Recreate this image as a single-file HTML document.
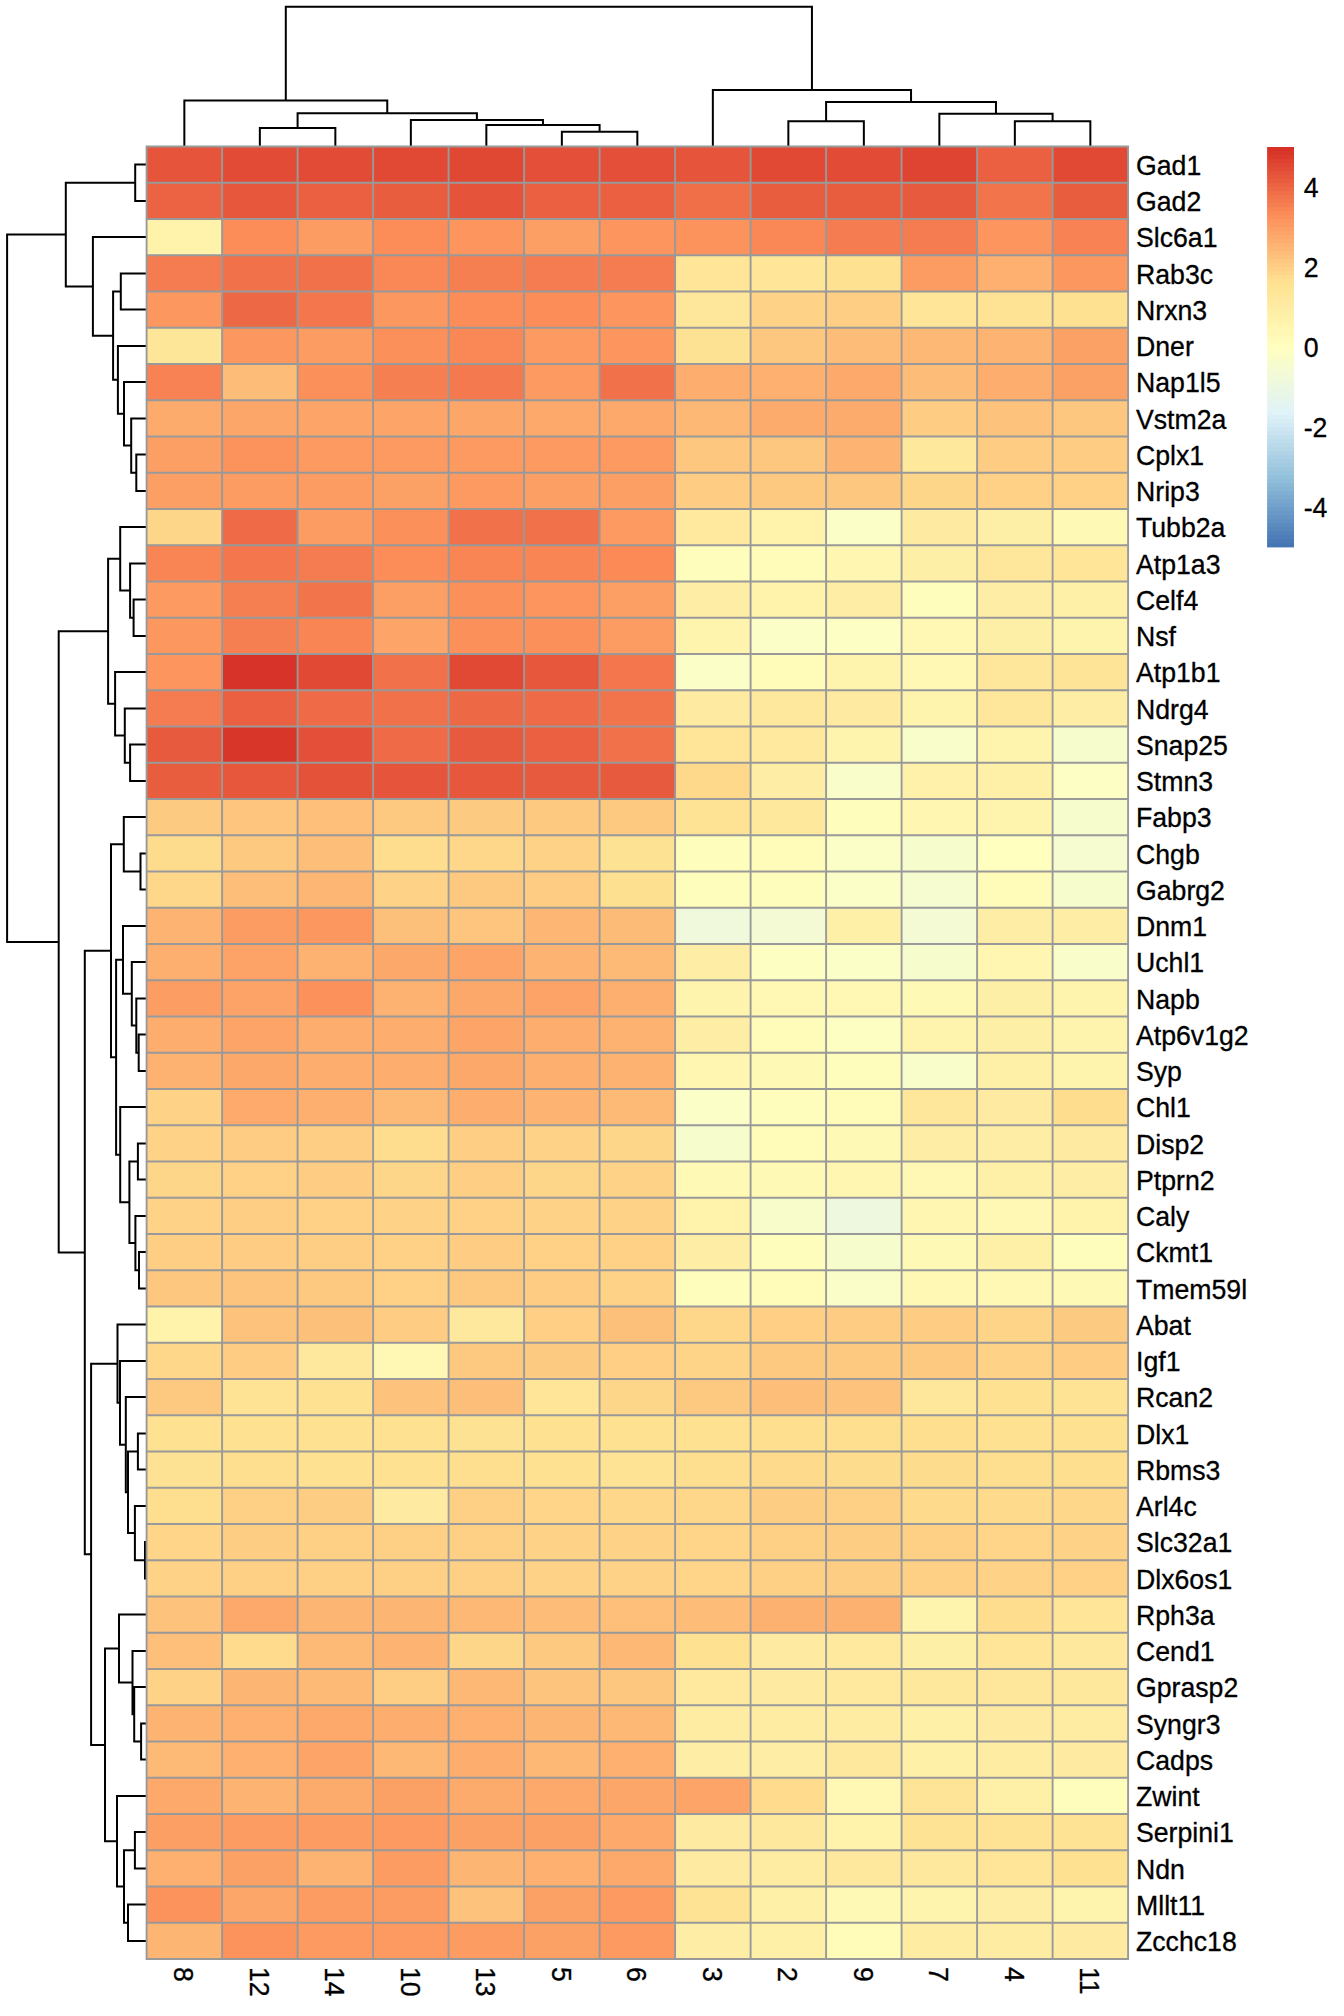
<!DOCTYPE html>
<html lang="en"><head><meta charset="utf-8"><title>Heatmap</title>
<style>html,body{margin:0;padding:0;background:#fff}svg{display:block}text{font-family:"Liberation Sans",Arial,Helvetica,sans-serif;font-size:26.67px;fill:#000;stroke:#000;stroke-width:0.3px;stroke-linejoin:round}</style></head><body>
<svg width="1344" height="2016" viewBox="0 0 1344 2016">
<rect width="1344" height="2016" fill="#fff"/>
<path d="M259.85 146.50V127.90H335.35V146.50M561.85 146.50V131.70H637.35V146.50M486.35 146.50V125.00H599.60V131.70M410.85 146.50V120.00H542.97V125.00M297.60 127.90V113.30H476.91V120.00M184.35 146.50V100.40H387.26V113.30M788.35 146.50V121.25H863.85V146.50M1014.85 146.50V121.25H1090.35V146.50M939.35 146.50V113.75H1052.60V121.25M826.10 121.25V102.00H995.97V113.75M712.85 146.50V90.00H911.04V102.00M285.80 100.40V6.70H811.94V90.00" stroke="#000" stroke-width="2" fill="none" stroke-linejoin="miter" stroke-linecap="butt"/>
<path d="M146.60 164.62H135.20V200.88H146.60M146.60 273.38H120.80V309.62H146.60M146.60 454.62H136.30V490.88H146.60M146.60 418.38H131.20V472.75H136.30M146.60 382.12H124.00V445.56H131.20M146.60 345.88H117.90V413.84H124.00M120.80 291.50H113.10V379.86H117.90M146.60 237.12H92.90V335.68H113.10M135.20 182.75H65.80V286.40H92.90M146.60 599.62H133.60V635.88H146.60M146.60 563.38H130.10V617.75H133.60M146.60 527.12H120.20V590.56H130.10M146.60 744.62H130.10V780.88H146.60M146.60 708.38H124.80V762.75H130.10M146.60 672.12H115.10V735.56H124.80M120.20 558.84H108.10V703.84H115.10M146.60 853.38H140.50V889.62H146.60M146.60 817.12H123.80V871.50H140.50M146.60 1034.62H138.70V1070.88H146.60M146.60 998.38H136.30V1052.75H138.70M146.60 962.12H131.80V1025.56H136.30M146.60 925.88H123.00V993.84H131.80M146.60 1143.38H137.90V1179.62H146.60M146.60 1252.12H139.00V1288.38H146.60M146.60 1215.88H135.40V1270.25H139.00M137.90 1161.50H129.40V1243.06H135.40M146.60 1107.12H120.20V1202.28H129.40M123.00 959.86H116.10V1154.70H120.20M123.80 844.31H111.00V1057.28H116.10M146.60 1433.38H137.90V1469.62H146.60M146.60 1542.12H145.00V1578.38H146.60M146.60 1505.88H134.90V1560.25H145.00M137.90 1451.50H128.00V1533.06H134.90M146.60 1397.12H125.80V1492.28H128.00M146.60 1360.88H120.00V1444.70H125.80M146.60 1324.62H117.50V1402.79H120.00M146.60 1723.38H141.10V1759.62H146.60M146.60 1687.12H134.20V1741.50H141.10M146.60 1650.88H132.50V1714.31H134.20M146.60 1614.62H119.00V1682.59H132.50M146.60 1832.12H134.90V1868.38H146.60M146.60 1904.62H128.00V1940.88H146.60M134.90 1850.25H124.00V1922.75H128.00M146.60 1795.88H117.00V1886.50H124.00M119.00 1648.61H105.00V1841.19H117.00M117.50 1363.71H91.10V1744.90H105.00M111.00 950.80H84.80V1554.30H91.10M108.10 631.34H58.70V1252.55H84.80M65.80 234.58H7.10V941.95H58.70" stroke="#000" stroke-width="2" fill="none" stroke-linejoin="miter" stroke-linecap="butt"/>
<g>
<rect x="146.60" y="146.50" width="75.80" height="36.55" fill="#E6553B"/><rect x="222.10" y="146.50" width="75.80" height="36.55" fill="#E24C36"/><rect x="297.60" y="146.50" width="75.80" height="36.55" fill="#E24C36"/><rect x="373.10" y="146.50" width="75.80" height="36.55" fill="#E14935"/><rect x="448.60" y="146.50" width="75.80" height="36.55" fill="#E14834"/><rect x="524.10" y="146.50" width="75.80" height="36.55" fill="#E34F38"/><rect x="599.60" y="146.50" width="75.80" height="36.55" fill="#E34F38"/><rect x="675.10" y="146.50" width="75.80" height="36.55" fill="#E6553B"/><rect x="750.60" y="146.50" width="75.80" height="36.55" fill="#E14935"/><rect x="826.10" y="146.50" width="75.80" height="36.55" fill="#E24C36"/><rect x="901.60" y="146.50" width="75.80" height="36.55" fill="#DF4432"/><rect x="977.10" y="146.50" width="75.80" height="36.55" fill="#EA6041"/><rect x="1052.60" y="146.50" width="75.80" height="36.55" fill="#E14935"/>
<rect x="146.60" y="182.75" width="75.80" height="36.55" fill="#EB6342"/><rect x="222.10" y="182.75" width="75.80" height="36.55" fill="#E7573C"/><rect x="297.60" y="182.75" width="75.80" height="36.55" fill="#EA6041"/><rect x="373.10" y="182.75" width="75.80" height="36.55" fill="#E95D3F"/><rect x="448.60" y="182.75" width="75.80" height="36.55" fill="#E5543A"/><rect x="524.10" y="182.75" width="75.80" height="36.55" fill="#EA6041"/><rect x="599.60" y="182.75" width="75.80" height="36.55" fill="#EA6041"/><rect x="675.10" y="182.75" width="75.80" height="36.55" fill="#F06E48"/><rect x="750.60" y="182.75" width="75.80" height="36.55" fill="#E95D3F"/><rect x="826.10" y="182.75" width="75.80" height="36.55" fill="#E95D3F"/><rect x="901.60" y="182.75" width="75.80" height="36.55" fill="#E85A3E"/><rect x="977.10" y="182.75" width="75.80" height="36.55" fill="#F2744B"/><rect x="1052.60" y="182.75" width="75.80" height="36.55" fill="#E95D3F"/>
<rect x="146.60" y="219.00" width="75.80" height="36.55" fill="#FFF3AC"/><rect x="222.10" y="219.00" width="75.80" height="36.55" fill="#FC8D59"/><rect x="297.60" y="219.00" width="75.80" height="36.55" fill="#FC9C63"/><rect x="373.10" y="219.00" width="75.80" height="36.55" fill="#FC8D59"/><rect x="448.60" y="219.00" width="75.80" height="36.55" fill="#FC955E"/><rect x="524.10" y="219.00" width="75.80" height="36.55" fill="#FC9F65"/><rect x="599.60" y="219.00" width="75.80" height="36.55" fill="#FC955E"/><rect x="675.10" y="219.00" width="75.80" height="36.55" fill="#FC925C"/><rect x="750.60" y="219.00" width="75.80" height="36.55" fill="#FA8756"/><rect x="826.10" y="219.00" width="75.80" height="36.55" fill="#F57C50"/><rect x="901.60" y="219.00" width="75.80" height="36.55" fill="#F57C50"/><rect x="977.10" y="219.00" width="75.80" height="36.55" fill="#FC955E"/><rect x="1052.60" y="219.00" width="75.80" height="36.55" fill="#F88253"/>
<rect x="146.60" y="255.25" width="75.80" height="36.55" fill="#F57C50"/><rect x="222.10" y="255.25" width="75.80" height="36.55" fill="#F1714A"/><rect x="297.60" y="255.25" width="75.80" height="36.55" fill="#F1714A"/><rect x="373.10" y="255.25" width="75.80" height="36.55" fill="#FA8756"/><rect x="448.60" y="255.25" width="75.80" height="36.55" fill="#F67F51"/><rect x="524.10" y="255.25" width="75.80" height="36.55" fill="#F57C50"/><rect x="599.60" y="255.25" width="75.80" height="36.55" fill="#F57C50"/><rect x="675.10" y="255.25" width="75.80" height="36.55" fill="#FEE597"/><rect x="750.60" y="255.25" width="75.80" height="36.55" fill="#FEE597"/><rect x="826.10" y="255.25" width="75.80" height="36.55" fill="#FEE191"/><rect x="901.60" y="255.25" width="75.80" height="36.55" fill="#FC9C63"/><rect x="977.10" y="255.25" width="75.80" height="36.55" fill="#FDB070"/><rect x="1052.60" y="255.25" width="75.80" height="36.55" fill="#FC9760"/>
<rect x="146.60" y="291.50" width="75.80" height="36.55" fill="#FC9760"/><rect x="222.10" y="291.50" width="75.80" height="36.55" fill="#ED6845"/><rect x="297.60" y="291.50" width="75.80" height="36.55" fill="#F3764D"/><rect x="373.10" y="291.50" width="75.80" height="36.55" fill="#FC9760"/><rect x="448.60" y="291.50" width="75.80" height="36.55" fill="#FC8D59"/><rect x="524.10" y="291.50" width="75.80" height="36.55" fill="#FC8D59"/><rect x="599.60" y="291.50" width="75.80" height="36.55" fill="#FC955E"/><rect x="675.10" y="291.50" width="75.80" height="36.55" fill="#FEE79A"/><rect x="750.60" y="291.50" width="75.80" height="36.55" fill="#FED388"/><rect x="826.10" y="291.50" width="75.80" height="36.55" fill="#FECE84"/><rect x="901.60" y="291.50" width="75.80" height="36.55" fill="#FEE597"/><rect x="977.10" y="291.50" width="75.80" height="36.55" fill="#FEE394"/><rect x="1052.60" y="291.50" width="75.80" height="36.55" fill="#FEE191"/>
<rect x="146.60" y="327.75" width="75.80" height="36.55" fill="#FEE699"/><rect x="222.10" y="327.75" width="75.80" height="36.55" fill="#FC9760"/><rect x="297.60" y="327.75" width="75.80" height="36.55" fill="#FC9C63"/><rect x="373.10" y="327.75" width="75.80" height="36.55" fill="#FC905B"/><rect x="448.60" y="327.75" width="75.80" height="36.55" fill="#FA8756"/><rect x="524.10" y="327.75" width="75.80" height="36.55" fill="#FC9A61"/><rect x="599.60" y="327.75" width="75.80" height="36.55" fill="#FC955E"/><rect x="675.10" y="327.75" width="75.80" height="36.55" fill="#FEE293"/><rect x="750.60" y="327.75" width="75.80" height="36.55" fill="#FDC77F"/><rect x="826.10" y="327.75" width="75.80" height="36.55" fill="#FDBD79"/><rect x="901.60" y="327.75" width="75.80" height="36.55" fill="#FDB875"/><rect x="977.10" y="327.75" width="75.80" height="36.55" fill="#FDB372"/><rect x="1052.60" y="327.75" width="75.80" height="36.55" fill="#FCA166"/>
<rect x="146.60" y="364.00" width="75.80" height="36.55" fill="#F88253"/><rect x="222.10" y="364.00" width="75.80" height="36.55" fill="#FDBD79"/><rect x="297.60" y="364.00" width="75.80" height="36.55" fill="#FC905B"/><rect x="373.10" y="364.00" width="75.80" height="36.55" fill="#F67F51"/><rect x="448.60" y="364.00" width="75.80" height="36.55" fill="#F4794E"/><rect x="524.10" y="364.00" width="75.80" height="36.55" fill="#FC9A61"/><rect x="599.60" y="364.00" width="75.80" height="36.55" fill="#F1714A"/><rect x="675.10" y="364.00" width="75.80" height="36.55" fill="#FDAE6F"/><rect x="750.60" y="364.00" width="75.80" height="36.55" fill="#FDB070"/><rect x="826.10" y="364.00" width="75.80" height="36.55" fill="#FDA96B"/><rect x="901.60" y="364.00" width="75.80" height="36.55" fill="#FDBD79"/><rect x="977.10" y="364.00" width="75.80" height="36.55" fill="#FDAE6F"/><rect x="1052.60" y="364.00" width="75.80" height="36.55" fill="#FCA166"/>
<rect x="146.60" y="400.25" width="75.80" height="36.55" fill="#FDAB6D"/><rect x="222.10" y="400.25" width="75.80" height="36.55" fill="#FDA66A"/><rect x="297.60" y="400.25" width="75.80" height="36.55" fill="#FDA468"/><rect x="373.10" y="400.25" width="75.80" height="36.55" fill="#FDA468"/><rect x="448.60" y="400.25" width="75.80" height="36.55" fill="#FDA66A"/><rect x="524.10" y="400.25" width="75.80" height="36.55" fill="#FDA96B"/><rect x="599.60" y="400.25" width="75.80" height="36.55" fill="#FDA96B"/><rect x="675.10" y="400.25" width="75.80" height="36.55" fill="#FDB875"/><rect x="750.60" y="400.25" width="75.80" height="36.55" fill="#FDAB6D"/><rect x="826.10" y="400.25" width="75.80" height="36.55" fill="#FDAB6D"/><rect x="901.60" y="400.25" width="75.80" height="36.55" fill="#FECC83"/><rect x="977.10" y="400.25" width="75.80" height="36.55" fill="#FDC27C"/><rect x="1052.60" y="400.25" width="75.80" height="36.55" fill="#FDC77F"/>
<rect x="146.60" y="436.50" width="75.80" height="36.55" fill="#FC9F65"/><rect x="222.10" y="436.50" width="75.80" height="36.55" fill="#FC925C"/><rect x="297.60" y="436.50" width="75.80" height="36.55" fill="#FC9A61"/><rect x="373.10" y="436.50" width="75.80" height="36.55" fill="#FC9A61"/><rect x="448.60" y="436.50" width="75.80" height="36.55" fill="#FC9A61"/><rect x="524.10" y="436.50" width="75.80" height="36.55" fill="#FC9A61"/><rect x="599.60" y="436.50" width="75.80" height="36.55" fill="#FC9A61"/><rect x="675.10" y="436.50" width="75.80" height="36.55" fill="#FDC77F"/><rect x="750.60" y="436.50" width="75.80" height="36.55" fill="#FDC77F"/><rect x="826.10" y="436.50" width="75.80" height="36.55" fill="#FDB372"/><rect x="901.60" y="436.50" width="75.80" height="36.55" fill="#FEE89B"/><rect x="977.10" y="436.50" width="75.80" height="36.55" fill="#FECC83"/><rect x="1052.60" y="436.50" width="75.80" height="36.55" fill="#FECC83"/>
<rect x="146.60" y="472.75" width="75.80" height="36.55" fill="#FC9F65"/><rect x="222.10" y="472.75" width="75.80" height="36.55" fill="#FC9C63"/><rect x="297.60" y="472.75" width="75.80" height="36.55" fill="#FC9C63"/><rect x="373.10" y="472.75" width="75.80" height="36.55" fill="#FCA166"/><rect x="448.60" y="472.75" width="75.80" height="36.55" fill="#FC9A61"/><rect x="524.10" y="472.75" width="75.80" height="36.55" fill="#FC9F65"/><rect x="599.60" y="472.75" width="75.80" height="36.55" fill="#FC9F65"/><rect x="675.10" y="472.75" width="75.80" height="36.55" fill="#FECC83"/><rect x="750.60" y="472.75" width="75.80" height="36.55" fill="#FDC981"/><rect x="826.10" y="472.75" width="75.80" height="36.55" fill="#FDC77F"/><rect x="901.60" y="472.75" width="75.80" height="36.55" fill="#FED689"/><rect x="977.10" y="472.75" width="75.80" height="36.55" fill="#FED186"/><rect x="1052.60" y="472.75" width="75.80" height="36.55" fill="#FED186"/>
<rect x="146.60" y="509.00" width="75.80" height="36.55" fill="#FED689"/><rect x="222.10" y="509.00" width="75.80" height="36.55" fill="#EF6B47"/><rect x="297.60" y="509.00" width="75.80" height="36.55" fill="#FC9C63"/><rect x="373.10" y="509.00" width="75.80" height="36.55" fill="#FC905B"/><rect x="448.60" y="509.00" width="75.80" height="36.55" fill="#F1714A"/><rect x="524.10" y="509.00" width="75.80" height="36.55" fill="#F1714A"/><rect x="599.60" y="509.00" width="75.80" height="36.55" fill="#FC9A61"/><rect x="675.10" y="509.00" width="75.80" height="36.55" fill="#FEE99E"/><rect x="750.60" y="509.00" width="75.80" height="36.55" fill="#FFF2AB"/><rect x="826.10" y="509.00" width="75.80" height="36.55" fill="#FBFEC6"/><rect x="901.60" y="509.00" width="75.80" height="36.55" fill="#FEEBA1"/><rect x="977.10" y="509.00" width="75.80" height="36.55" fill="#FEEFA7"/><rect x="1052.60" y="509.00" width="75.80" height="36.55" fill="#FFF9B6"/>
<rect x="146.60" y="545.25" width="75.80" height="36.55" fill="#F98554"/><rect x="222.10" y="545.25" width="75.80" height="36.55" fill="#F3764D"/><rect x="297.60" y="545.25" width="75.80" height="36.55" fill="#F57C50"/><rect x="373.10" y="545.25" width="75.80" height="36.55" fill="#FC8D59"/><rect x="448.60" y="545.25" width="75.80" height="36.55" fill="#F98554"/><rect x="524.10" y="545.25" width="75.80" height="36.55" fill="#F98554"/><rect x="599.60" y="545.25" width="75.80" height="36.55" fill="#FB8A57"/><rect x="675.10" y="545.25" width="75.80" height="36.55" fill="#FFFDBC"/><rect x="750.60" y="545.25" width="75.80" height="36.55" fill="#FFFBB9"/><rect x="826.10" y="545.25" width="75.80" height="36.55" fill="#FFF6B1"/><rect x="901.60" y="545.25" width="75.80" height="36.55" fill="#FEEFA7"/><rect x="977.10" y="545.25" width="75.80" height="36.55" fill="#FEE79A"/><rect x="1052.60" y="545.25" width="75.80" height="36.55" fill="#FEE597"/>
<rect x="146.60" y="581.50" width="75.80" height="36.55" fill="#FC9A61"/><rect x="222.10" y="581.50" width="75.80" height="36.55" fill="#F67F51"/><rect x="297.60" y="581.50" width="75.80" height="36.55" fill="#F2744B"/><rect x="373.10" y="581.50" width="75.80" height="36.55" fill="#FC9F65"/><rect x="448.60" y="581.50" width="75.80" height="36.55" fill="#FC905B"/><rect x="524.10" y="581.50" width="75.80" height="36.55" fill="#FC955E"/><rect x="599.60" y="581.50" width="75.80" height="36.55" fill="#FC9F65"/><rect x="675.10" y="581.50" width="75.80" height="36.55" fill="#FEEDA4"/><rect x="750.60" y="581.50" width="75.80" height="36.55" fill="#FFF2AB"/><rect x="826.10" y="581.50" width="75.80" height="36.55" fill="#FEEDA4"/><rect x="901.60" y="581.50" width="75.80" height="36.55" fill="#FFFDBC"/><rect x="977.10" y="581.50" width="75.80" height="36.55" fill="#FEEDA4"/><rect x="1052.60" y="581.50" width="75.80" height="36.55" fill="#FFF0A8"/>
<rect x="146.60" y="617.75" width="75.80" height="36.55" fill="#FC9760"/><rect x="222.10" y="617.75" width="75.80" height="36.55" fill="#F67F51"/><rect x="297.60" y="617.75" width="75.80" height="36.55" fill="#F98554"/><rect x="373.10" y="617.75" width="75.80" height="36.55" fill="#FDA468"/><rect x="448.60" y="617.75" width="75.80" height="36.55" fill="#FC905B"/><rect x="524.10" y="617.75" width="75.80" height="36.55" fill="#FC905B"/><rect x="599.60" y="617.75" width="75.80" height="36.55" fill="#FC9C63"/><rect x="675.10" y="617.75" width="75.80" height="36.55" fill="#FFF4AE"/><rect x="750.60" y="617.75" width="75.80" height="36.55" fill="#FBFEC6"/><rect x="826.10" y="617.75" width="75.80" height="36.55" fill="#FCFEC4"/><rect x="901.60" y="617.75" width="75.80" height="36.55" fill="#FFF7B4"/><rect x="977.10" y="617.75" width="75.80" height="36.55" fill="#FEEFA7"/><rect x="1052.60" y="617.75" width="75.80" height="36.55" fill="#FFF4AE"/>
<rect x="146.60" y="654.00" width="75.80" height="36.55" fill="#FC955E"/><rect x="222.10" y="654.00" width="75.80" height="36.55" fill="#D83329"/><rect x="297.60" y="654.00" width="75.80" height="36.55" fill="#E14935"/><rect x="373.10" y="654.00" width="75.80" height="36.55" fill="#F1714A"/><rect x="448.60" y="654.00" width="75.80" height="36.55" fill="#E14935"/><rect x="524.10" y="654.00" width="75.80" height="36.55" fill="#E7573C"/><rect x="599.60" y="654.00" width="75.80" height="36.55" fill="#F3764D"/><rect x="675.10" y="654.00" width="75.80" height="36.55" fill="#FBFEC6"/><rect x="750.60" y="654.00" width="75.80" height="36.55" fill="#FFFBB9"/><rect x="826.10" y="654.00" width="75.80" height="36.55" fill="#FFF4AE"/><rect x="901.60" y="654.00" width="75.80" height="36.55" fill="#FFF7B4"/><rect x="977.10" y="654.00" width="75.80" height="36.55" fill="#FEE79A"/><rect x="1052.60" y="654.00" width="75.80" height="36.55" fill="#FEE496"/>
<rect x="146.60" y="690.25" width="75.80" height="36.55" fill="#F57C50"/><rect x="222.10" y="690.25" width="75.80" height="36.55" fill="#EA6041"/><rect x="297.60" y="690.25" width="75.80" height="36.55" fill="#EF6B47"/><rect x="373.10" y="690.25" width="75.80" height="36.55" fill="#F1714A"/><rect x="448.60" y="690.25" width="75.80" height="36.55" fill="#ED6845"/><rect x="524.10" y="690.25" width="75.80" height="36.55" fill="#EF6B47"/><rect x="599.60" y="690.25" width="75.80" height="36.55" fill="#F2744B"/><rect x="675.10" y="690.25" width="75.80" height="36.55" fill="#FEEBA1"/><rect x="750.60" y="690.25" width="75.80" height="36.55" fill="#FEE89D"/><rect x="826.10" y="690.25" width="75.80" height="36.55" fill="#FEEBA1"/><rect x="901.60" y="690.25" width="75.80" height="36.55" fill="#FFF4AE"/><rect x="977.10" y="690.25" width="75.80" height="36.55" fill="#FEE79A"/><rect x="1052.60" y="690.25" width="75.80" height="36.55" fill="#FEEDA4"/>
<rect x="146.60" y="726.50" width="75.80" height="36.55" fill="#E85A3E"/><rect x="222.10" y="726.50" width="75.80" height="36.55" fill="#D9362A"/><rect x="297.60" y="726.50" width="75.80" height="36.55" fill="#E34F38"/><rect x="373.10" y="726.50" width="75.80" height="36.55" fill="#EF6B47"/><rect x="448.60" y="726.50" width="75.80" height="36.55" fill="#E85A3E"/><rect x="524.10" y="726.50" width="75.80" height="36.55" fill="#EA6041"/><rect x="599.60" y="726.50" width="75.80" height="36.55" fill="#F1714A"/><rect x="675.10" y="726.50" width="75.80" height="36.55" fill="#FEE597"/><rect x="750.60" y="726.50" width="75.80" height="36.55" fill="#FEE99E"/><rect x="826.10" y="726.50" width="75.80" height="36.55" fill="#FFF4AE"/><rect x="901.60" y="726.50" width="75.80" height="36.55" fill="#F9FDC9"/><rect x="977.10" y="726.50" width="75.80" height="36.55" fill="#FFF4AE"/><rect x="1052.60" y="726.50" width="75.80" height="36.55" fill="#F7FCCD"/>
<rect x="146.60" y="762.75" width="75.80" height="36.55" fill="#E95D3F"/><rect x="222.10" y="762.75" width="75.80" height="36.55" fill="#E7573C"/><rect x="297.60" y="762.75" width="75.80" height="36.55" fill="#E45239"/><rect x="373.10" y="762.75" width="75.80" height="36.55" fill="#E6553B"/><rect x="448.60" y="762.75" width="75.80" height="36.55" fill="#E7573C"/><rect x="524.10" y="762.75" width="75.80" height="36.55" fill="#E85A3E"/><rect x="599.60" y="762.75" width="75.80" height="36.55" fill="#E85A3E"/><rect x="675.10" y="762.75" width="75.80" height="36.55" fill="#FED88B"/><rect x="750.60" y="762.75" width="75.80" height="36.55" fill="#FEEEA5"/><rect x="826.10" y="762.75" width="75.80" height="36.55" fill="#F9FDC9"/><rect x="901.60" y="762.75" width="75.80" height="36.55" fill="#FFF1AA"/><rect x="977.10" y="762.75" width="75.80" height="36.55" fill="#FFF0A8"/><rect x="1052.60" y="762.75" width="75.80" height="36.55" fill="#FCFEC4"/>
<rect x="146.60" y="799.00" width="75.80" height="36.55" fill="#FDCA82"/><rect x="222.10" y="799.00" width="75.80" height="36.55" fill="#FDC57E"/><rect x="297.60" y="799.00" width="75.80" height="36.55" fill="#FDBF7A"/><rect x="373.10" y="799.00" width="75.80" height="36.55" fill="#FDC880"/><rect x="448.60" y="799.00" width="75.80" height="36.55" fill="#FDCA82"/><rect x="524.10" y="799.00" width="75.80" height="36.55" fill="#FDC880"/><rect x="599.60" y="799.00" width="75.80" height="36.55" fill="#FDC880"/><rect x="675.10" y="799.00" width="75.80" height="36.55" fill="#FEE394"/><rect x="750.60" y="799.00" width="75.80" height="36.55" fill="#FEE89C"/><rect x="826.10" y="799.00" width="75.80" height="36.55" fill="#FFFDBC"/><rect x="901.60" y="799.00" width="75.80" height="36.55" fill="#FFF6B1"/><rect x="977.10" y="799.00" width="75.80" height="36.55" fill="#FFF4AE"/><rect x="1052.60" y="799.00" width="75.80" height="36.55" fill="#F7FCCD"/>
<rect x="146.60" y="835.25" width="75.80" height="36.55" fill="#FEDC8D"/><rect x="222.10" y="835.25" width="75.80" height="36.55" fill="#FDC880"/><rect x="297.60" y="835.25" width="75.80" height="36.55" fill="#FDBE79"/><rect x="373.10" y="835.25" width="75.80" height="36.55" fill="#FEDD8E"/><rect x="448.60" y="835.25" width="75.80" height="36.55" fill="#FED78A"/><rect x="524.10" y="835.25" width="75.80" height="36.55" fill="#FED287"/><rect x="599.60" y="835.25" width="75.80" height="36.55" fill="#FEE293"/><rect x="675.10" y="835.25" width="75.80" height="36.55" fill="#FFFDBC"/><rect x="750.60" y="835.25" width="75.80" height="36.55" fill="#FFFBB9"/><rect x="826.10" y="835.25" width="75.80" height="36.55" fill="#FBFEC6"/><rect x="901.60" y="835.25" width="75.80" height="36.55" fill="#F7FCCD"/><rect x="977.10" y="835.25" width="75.80" height="36.55" fill="#FFFFBF"/><rect x="1052.60" y="835.25" width="75.80" height="36.55" fill="#F6FBD0"/>
<rect x="146.60" y="871.50" width="75.80" height="36.55" fill="#FED78A"/><rect x="222.10" y="871.50" width="75.80" height="36.55" fill="#FDBE79"/><rect x="297.60" y="871.50" width="75.80" height="36.55" fill="#FDB674"/><rect x="373.10" y="871.50" width="75.80" height="36.55" fill="#FED287"/><rect x="448.60" y="871.50" width="75.80" height="36.55" fill="#FDC880"/><rect x="524.10" y="871.50" width="75.80" height="36.55" fill="#FECD83"/><rect x="599.60" y="871.50" width="75.80" height="36.55" fill="#FEE091"/><rect x="675.10" y="871.50" width="75.80" height="36.55" fill="#FFFDBC"/><rect x="750.60" y="871.50" width="75.80" height="36.55" fill="#FFFDBC"/><rect x="826.10" y="871.50" width="75.80" height="36.55" fill="#FBFEC6"/><rect x="901.60" y="871.50" width="75.80" height="36.55" fill="#F6FBD0"/><rect x="977.10" y="871.50" width="75.80" height="36.55" fill="#FFFBB9"/><rect x="1052.60" y="871.50" width="75.80" height="36.55" fill="#F7FCCD"/>
<rect x="146.60" y="907.75" width="75.80" height="36.55" fill="#FDB473"/><rect x="222.10" y="907.75" width="75.80" height="36.55" fill="#FC9C63"/><rect x="297.60" y="907.75" width="75.80" height="36.55" fill="#FC9760"/><rect x="373.10" y="907.75" width="75.80" height="36.55" fill="#FDC07B"/><rect x="448.60" y="907.75" width="75.80" height="36.55" fill="#FDC57E"/><rect x="524.10" y="907.75" width="75.80" height="36.55" fill="#FDB674"/><rect x="599.60" y="907.75" width="75.80" height="36.55" fill="#FDBB78"/><rect x="675.10" y="907.75" width="75.80" height="36.55" fill="#F0F9DB"/><rect x="750.60" y="907.75" width="75.80" height="36.55" fill="#F4FBD4"/><rect x="826.10" y="907.75" width="75.80" height="36.55" fill="#FFF0A8"/><rect x="901.60" y="907.75" width="75.80" height="36.55" fill="#F4FBD4"/><rect x="977.10" y="907.75" width="75.80" height="36.55" fill="#FEEEA5"/><rect x="1052.60" y="907.75" width="75.80" height="36.55" fill="#FEEEA5"/>
<rect x="146.60" y="944.00" width="75.80" height="36.55" fill="#FDAF70"/><rect x="222.10" y="944.00" width="75.80" height="36.55" fill="#FDA367"/><rect x="297.60" y="944.00" width="75.80" height="36.55" fill="#FDB271"/><rect x="373.10" y="944.00" width="75.80" height="36.55" fill="#FDA86B"/><rect x="448.60" y="944.00" width="75.80" height="36.55" fill="#FDA569"/><rect x="524.10" y="944.00" width="75.80" height="36.55" fill="#FDB473"/><rect x="599.60" y="944.00" width="75.80" height="36.55" fill="#FDB976"/><rect x="675.10" y="944.00" width="75.80" height="36.55" fill="#FEEDA4"/><rect x="750.60" y="944.00" width="75.80" height="36.55" fill="#FDFEC2"/><rect x="826.10" y="944.00" width="75.80" height="36.55" fill="#FBFEC6"/><rect x="901.60" y="944.00" width="75.80" height="36.55" fill="#F7FCCD"/><rect x="977.10" y="944.00" width="75.80" height="36.55" fill="#FFF6B1"/><rect x="1052.60" y="944.00" width="75.80" height="36.55" fill="#F9FDC9"/>
<rect x="146.60" y="980.25" width="75.80" height="36.55" fill="#FC9E64"/><rect x="222.10" y="980.25" width="75.80" height="36.55" fill="#FDA367"/><rect x="297.60" y="980.25" width="75.80" height="36.55" fill="#FC915C"/><rect x="373.10" y="980.25" width="75.80" height="36.55" fill="#FDB271"/><rect x="448.60" y="980.25" width="75.80" height="36.55" fill="#FDA86B"/><rect x="524.10" y="980.25" width="75.80" height="36.55" fill="#FDA367"/><rect x="599.60" y="980.25" width="75.80" height="36.55" fill="#FDAF70"/><rect x="675.10" y="980.25" width="75.80" height="36.55" fill="#FFF4AE"/><rect x="750.60" y="980.25" width="75.80" height="36.55" fill="#FFF7B4"/><rect x="826.10" y="980.25" width="75.80" height="36.55" fill="#FFF7B4"/><rect x="901.60" y="980.25" width="75.80" height="36.55" fill="#FFF9B6"/><rect x="977.10" y="980.25" width="75.80" height="36.55" fill="#FEEFA7"/><rect x="1052.60" y="980.25" width="75.80" height="36.55" fill="#FFF4AE"/>
<rect x="146.60" y="1016.50" width="75.80" height="36.55" fill="#FDAD6E"/><rect x="222.10" y="1016.50" width="75.80" height="36.55" fill="#FDA569"/><rect x="297.60" y="1016.50" width="75.80" height="36.55" fill="#FDAD6E"/><rect x="373.10" y="1016.50" width="75.80" height="36.55" fill="#FDAD6E"/><rect x="448.60" y="1016.50" width="75.80" height="36.55" fill="#FDA569"/><rect x="524.10" y="1016.50" width="75.80" height="36.55" fill="#FDAD6E"/><rect x="599.60" y="1016.50" width="75.80" height="36.55" fill="#FDB271"/><rect x="675.10" y="1016.50" width="75.80" height="36.55" fill="#FEEEA5"/><rect x="750.60" y="1016.50" width="75.80" height="36.55" fill="#FFFBB9"/><rect x="826.10" y="1016.50" width="75.80" height="36.55" fill="#FDFEC2"/><rect x="901.60" y="1016.50" width="75.80" height="36.55" fill="#FFF4AE"/><rect x="977.10" y="1016.50" width="75.80" height="36.55" fill="#FEEFA7"/><rect x="1052.60" y="1016.50" width="75.80" height="36.55" fill="#FFF4AE"/>
<rect x="146.60" y="1052.75" width="75.80" height="36.55" fill="#FDB271"/><rect x="222.10" y="1052.75" width="75.80" height="36.55" fill="#FDA86B"/><rect x="297.60" y="1052.75" width="75.80" height="36.55" fill="#FDAD6E"/><rect x="373.10" y="1052.75" width="75.80" height="36.55" fill="#FDAD6E"/><rect x="448.60" y="1052.75" width="75.80" height="36.55" fill="#FDA86B"/><rect x="524.10" y="1052.75" width="75.80" height="36.55" fill="#FDAF70"/><rect x="599.60" y="1052.75" width="75.80" height="36.55" fill="#FDB271"/><rect x="675.10" y="1052.75" width="75.80" height="36.55" fill="#FFF6B1"/><rect x="750.60" y="1052.75" width="75.80" height="36.55" fill="#FFF9B6"/><rect x="826.10" y="1052.75" width="75.80" height="36.55" fill="#FFFDBC"/><rect x="901.60" y="1052.75" width="75.80" height="36.55" fill="#F9FDC9"/><rect x="977.10" y="1052.75" width="75.80" height="36.55" fill="#FFF0A8"/><rect x="1052.60" y="1052.75" width="75.80" height="36.55" fill="#FFF4AE"/>
<rect x="146.60" y="1089.00" width="75.80" height="36.55" fill="#FED287"/><rect x="222.10" y="1089.00" width="75.80" height="36.55" fill="#FDAA6C"/><rect x="297.60" y="1089.00" width="75.80" height="36.55" fill="#FDAF70"/><rect x="373.10" y="1089.00" width="75.80" height="36.55" fill="#FDB976"/><rect x="448.60" y="1089.00" width="75.80" height="36.55" fill="#FDAD6E"/><rect x="524.10" y="1089.00" width="75.80" height="36.55" fill="#FDB473"/><rect x="599.60" y="1089.00" width="75.80" height="36.55" fill="#FDB976"/><rect x="675.10" y="1089.00" width="75.80" height="36.55" fill="#FBFEC6"/><rect x="750.60" y="1089.00" width="75.80" height="36.55" fill="#FFFDBC"/><rect x="826.10" y="1089.00" width="75.80" height="36.55" fill="#FFFBB9"/><rect x="901.60" y="1089.00" width="75.80" height="36.55" fill="#FEE79A"/><rect x="977.10" y="1089.00" width="75.80" height="36.55" fill="#FEEAA0"/><rect x="1052.60" y="1089.00" width="75.80" height="36.55" fill="#FEDD8E"/>
<rect x="146.60" y="1125.25" width="75.80" height="36.55" fill="#FED388"/><rect x="222.10" y="1125.25" width="75.80" height="36.55" fill="#FECC83"/><rect x="297.60" y="1125.25" width="75.80" height="36.55" fill="#FECE84"/><rect x="373.10" y="1125.25" width="75.80" height="36.55" fill="#FEDD8E"/><rect x="448.60" y="1125.25" width="75.80" height="36.55" fill="#FECE84"/><rect x="524.10" y="1125.25" width="75.80" height="36.55" fill="#FED388"/><rect x="599.60" y="1125.25" width="75.80" height="36.55" fill="#FED689"/><rect x="675.10" y="1125.25" width="75.80" height="36.55" fill="#F7FCCD"/><rect x="750.60" y="1125.25" width="75.80" height="36.55" fill="#FFFBB9"/><rect x="826.10" y="1125.25" width="75.80" height="36.55" fill="#FFF9B6"/><rect x="901.60" y="1125.25" width="75.80" height="36.55" fill="#FEEEA5"/><rect x="977.10" y="1125.25" width="75.80" height="36.55" fill="#FEEEA5"/><rect x="1052.60" y="1125.25" width="75.80" height="36.55" fill="#FEEAA0"/>
<rect x="146.60" y="1161.50" width="75.80" height="36.55" fill="#FED689"/><rect x="222.10" y="1161.50" width="75.80" height="36.55" fill="#FED186"/><rect x="297.60" y="1161.50" width="75.80" height="36.55" fill="#FECC83"/><rect x="373.10" y="1161.50" width="75.80" height="36.55" fill="#FED689"/><rect x="448.60" y="1161.50" width="75.80" height="36.55" fill="#FECE84"/><rect x="524.10" y="1161.50" width="75.80" height="36.55" fill="#FED689"/><rect x="599.60" y="1161.50" width="75.80" height="36.55" fill="#FED388"/><rect x="675.10" y="1161.50" width="75.80" height="36.55" fill="#FFF9B6"/><rect x="750.60" y="1161.50" width="75.80" height="36.55" fill="#FFF9B6"/><rect x="826.10" y="1161.50" width="75.80" height="36.55" fill="#FFF6B1"/><rect x="901.60" y="1161.50" width="75.80" height="36.55" fill="#FFF7B4"/><rect x="977.10" y="1161.50" width="75.80" height="36.55" fill="#FFF0A8"/><rect x="1052.60" y="1161.50" width="75.80" height="36.55" fill="#FEEEA5"/>
<rect x="146.60" y="1197.75" width="75.80" height="36.55" fill="#FED388"/><rect x="222.10" y="1197.75" width="75.80" height="36.55" fill="#FECE84"/><rect x="297.60" y="1197.75" width="75.80" height="36.55" fill="#FED186"/><rect x="373.10" y="1197.75" width="75.80" height="36.55" fill="#FED388"/><rect x="448.60" y="1197.75" width="75.80" height="36.55" fill="#FED186"/><rect x="524.10" y="1197.75" width="75.80" height="36.55" fill="#FED388"/><rect x="599.60" y="1197.75" width="75.80" height="36.55" fill="#FED388"/><rect x="675.10" y="1197.75" width="75.80" height="36.55" fill="#FFF2AB"/><rect x="750.60" y="1197.75" width="75.80" height="36.55" fill="#F8FCCB"/><rect x="826.10" y="1197.75" width="75.80" height="36.55" fill="#EEF8DE"/><rect x="901.60" y="1197.75" width="75.80" height="36.55" fill="#FFF6B1"/><rect x="977.10" y="1197.75" width="75.80" height="36.55" fill="#FFF7B4"/><rect x="1052.60" y="1197.75" width="75.80" height="36.55" fill="#FFF2AB"/>
<rect x="146.60" y="1234.00" width="75.80" height="36.55" fill="#FECE84"/><rect x="222.10" y="1234.00" width="75.80" height="36.55" fill="#FECC83"/><rect x="297.60" y="1234.00" width="75.80" height="36.55" fill="#FECE84"/><rect x="373.10" y="1234.00" width="75.80" height="36.55" fill="#FED186"/><rect x="448.60" y="1234.00" width="75.80" height="36.55" fill="#FECC83"/><rect x="524.10" y="1234.00" width="75.80" height="36.55" fill="#FED186"/><rect x="599.60" y="1234.00" width="75.80" height="36.55" fill="#FED186"/><rect x="675.10" y="1234.00" width="75.80" height="36.55" fill="#FEEEA5"/><rect x="750.60" y="1234.00" width="75.80" height="36.55" fill="#FFFDBC"/><rect x="826.10" y="1234.00" width="75.80" height="36.55" fill="#F7FCCD"/><rect x="901.60" y="1234.00" width="75.80" height="36.55" fill="#FFF9B6"/><rect x="977.10" y="1234.00" width="75.80" height="36.55" fill="#FFF0A8"/><rect x="1052.60" y="1234.00" width="75.80" height="36.55" fill="#FFFDBC"/>
<rect x="146.60" y="1270.25" width="75.80" height="36.55" fill="#FDC77F"/><rect x="222.10" y="1270.25" width="75.80" height="36.55" fill="#FDC47E"/><rect x="297.60" y="1270.25" width="75.80" height="36.55" fill="#FDC981"/><rect x="373.10" y="1270.25" width="75.80" height="36.55" fill="#FED186"/><rect x="448.60" y="1270.25" width="75.80" height="36.55" fill="#FDC981"/><rect x="524.10" y="1270.25" width="75.80" height="36.55" fill="#FECC83"/><rect x="599.60" y="1270.25" width="75.80" height="36.55" fill="#FED388"/><rect x="675.10" y="1270.25" width="75.80" height="36.55" fill="#FFFDBC"/><rect x="750.60" y="1270.25" width="75.80" height="36.55" fill="#FFFBB9"/><rect x="826.10" y="1270.25" width="75.80" height="36.55" fill="#FAFDC8"/><rect x="901.60" y="1270.25" width="75.80" height="36.55" fill="#FFF7B4"/><rect x="977.10" y="1270.25" width="75.80" height="36.55" fill="#FFF7B4"/><rect x="1052.60" y="1270.25" width="75.80" height="36.55" fill="#FFF9B6"/>
<rect x="146.60" y="1306.50" width="75.80" height="36.55" fill="#FFF2AB"/><rect x="222.10" y="1306.50" width="75.80" height="36.55" fill="#FDC37D"/><rect x="297.60" y="1306.50" width="75.80" height="36.55" fill="#FDC07B"/><rect x="373.10" y="1306.50" width="75.80" height="36.55" fill="#FECD83"/><rect x="448.60" y="1306.50" width="75.80" height="36.55" fill="#FEE89D"/><rect x="524.10" y="1306.50" width="75.80" height="36.55" fill="#FECF85"/><rect x="599.60" y="1306.50" width="75.80" height="36.55" fill="#FDC07B"/><rect x="675.10" y="1306.50" width="75.80" height="36.55" fill="#FED78A"/><rect x="750.60" y="1306.50" width="75.80" height="36.55" fill="#FECF85"/><rect x="826.10" y="1306.50" width="75.80" height="36.55" fill="#FECD83"/><rect x="901.60" y="1306.50" width="75.80" height="36.55" fill="#FECD83"/><rect x="977.10" y="1306.50" width="75.80" height="36.55" fill="#FED488"/><rect x="1052.60" y="1306.50" width="75.80" height="36.55" fill="#FDCA82"/>
<rect x="146.60" y="1342.75" width="75.80" height="36.55" fill="#FED78A"/><rect x="222.10" y="1342.75" width="75.80" height="36.55" fill="#FECD83"/><rect x="297.60" y="1342.75" width="75.80" height="36.55" fill="#FEE89D"/><rect x="373.10" y="1342.75" width="75.80" height="36.55" fill="#FFF7B4"/><rect x="448.60" y="1342.75" width="75.80" height="36.55" fill="#FDC880"/><rect x="524.10" y="1342.75" width="75.80" height="36.55" fill="#FDCA82"/><rect x="599.60" y="1342.75" width="75.80" height="36.55" fill="#FECF85"/><rect x="675.10" y="1342.75" width="75.80" height="36.55" fill="#FED488"/><rect x="750.60" y="1342.75" width="75.80" height="36.55" fill="#FDC880"/><rect x="826.10" y="1342.75" width="75.80" height="36.55" fill="#FDC880"/><rect x="901.60" y="1342.75" width="75.80" height="36.55" fill="#FDC880"/><rect x="977.10" y="1342.75" width="75.80" height="36.55" fill="#FED287"/><rect x="1052.60" y="1342.75" width="75.80" height="36.55" fill="#FECD83"/>
<rect x="146.60" y="1379.00" width="75.80" height="36.55" fill="#FDC880"/><rect x="222.10" y="1379.00" width="75.80" height="36.55" fill="#FEE394"/><rect x="297.60" y="1379.00" width="75.80" height="36.55" fill="#FEE191"/><rect x="373.10" y="1379.00" width="75.80" height="36.55" fill="#FDC37D"/><rect x="448.60" y="1379.00" width="75.80" height="36.55" fill="#FDBE79"/><rect x="524.10" y="1379.00" width="75.80" height="36.55" fill="#FEE597"/><rect x="599.60" y="1379.00" width="75.80" height="36.55" fill="#FED689"/><rect x="675.10" y="1379.00" width="75.80" height="36.55" fill="#FDC880"/><rect x="750.60" y="1379.00" width="75.80" height="36.55" fill="#FDBE79"/><rect x="826.10" y="1379.00" width="75.80" height="36.55" fill="#FDC37D"/><rect x="901.60" y="1379.00" width="75.80" height="36.55" fill="#FEE79A"/><rect x="977.10" y="1379.00" width="75.80" height="36.55" fill="#FEE191"/><rect x="1052.60" y="1379.00" width="75.80" height="36.55" fill="#FEE394"/>
<rect x="146.60" y="1415.25" width="75.80" height="36.55" fill="#FEE292"/><rect x="222.10" y="1415.25" width="75.80" height="36.55" fill="#FEE191"/><rect x="297.60" y="1415.25" width="75.80" height="36.55" fill="#FEE191"/><rect x="373.10" y="1415.25" width="75.80" height="36.55" fill="#FEE191"/><rect x="448.60" y="1415.25" width="75.80" height="36.55" fill="#FEE294"/><rect x="524.10" y="1415.25" width="75.80" height="36.55" fill="#FEE292"/><rect x="599.60" y="1415.25" width="75.80" height="36.55" fill="#FEE292"/><rect x="675.10" y="1415.25" width="75.80" height="36.55" fill="#FEE191"/><rect x="750.60" y="1415.25" width="75.80" height="36.55" fill="#FEDF8F"/><rect x="826.10" y="1415.25" width="75.80" height="36.55" fill="#FEDF8F"/><rect x="901.60" y="1415.25" width="75.80" height="36.55" fill="#FEDF8F"/><rect x="977.10" y="1415.25" width="75.80" height="36.55" fill="#FEE191"/><rect x="1052.60" y="1415.25" width="75.80" height="36.55" fill="#FEE191"/>
<rect x="146.60" y="1451.50" width="75.80" height="36.55" fill="#FEE294"/><rect x="222.10" y="1451.50" width="75.80" height="36.55" fill="#FEDF8F"/><rect x="297.60" y="1451.50" width="75.80" height="36.55" fill="#FEE191"/><rect x="373.10" y="1451.50" width="75.80" height="36.55" fill="#FEE292"/><rect x="448.60" y="1451.50" width="75.80" height="36.55" fill="#FEDF8F"/><rect x="524.10" y="1451.50" width="75.80" height="36.55" fill="#FEE292"/><rect x="599.60" y="1451.50" width="75.80" height="36.55" fill="#FEE395"/><rect x="675.10" y="1451.50" width="75.80" height="36.55" fill="#FEDF8F"/><rect x="750.60" y="1451.50" width="75.80" height="36.55" fill="#FEDA8C"/><rect x="826.10" y="1451.50" width="75.80" height="36.55" fill="#FEDC8E"/><rect x="901.60" y="1451.50" width="75.80" height="36.55" fill="#FEDC8E"/><rect x="977.10" y="1451.50" width="75.80" height="36.55" fill="#FEDF8F"/><rect x="1052.60" y="1451.50" width="75.80" height="36.55" fill="#FEDF8F"/>
<rect x="146.60" y="1487.75" width="75.80" height="36.55" fill="#FEDF8F"/><rect x="222.10" y="1487.75" width="75.80" height="36.55" fill="#FED085"/><rect x="297.60" y="1487.75" width="75.80" height="36.55" fill="#FECD84"/><rect x="373.10" y="1487.75" width="75.80" height="36.55" fill="#FEEBA1"/><rect x="448.60" y="1487.75" width="75.80" height="36.55" fill="#FED085"/><rect x="524.10" y="1487.75" width="75.80" height="36.55" fill="#FED589"/><rect x="599.60" y="1487.75" width="75.80" height="36.55" fill="#FED78A"/><rect x="675.10" y="1487.75" width="75.80" height="36.55" fill="#FED78A"/><rect x="750.60" y="1487.75" width="75.80" height="36.55" fill="#FECD84"/><rect x="826.10" y="1487.75" width="75.80" height="36.55" fill="#FED085"/><rect x="901.60" y="1487.75" width="75.80" height="36.55" fill="#FEDA8C"/><rect x="977.10" y="1487.75" width="75.80" height="36.55" fill="#FEDA8C"/><rect x="1052.60" y="1487.75" width="75.80" height="36.55" fill="#FED78A"/>
<rect x="146.60" y="1524.00" width="75.80" height="36.55" fill="#FED589"/><rect x="222.10" y="1524.00" width="75.80" height="36.55" fill="#FECD84"/><rect x="297.60" y="1524.00" width="75.80" height="36.55" fill="#FED085"/><rect x="373.10" y="1524.00" width="75.80" height="36.55" fill="#FED085"/><rect x="448.60" y="1524.00" width="75.80" height="36.55" fill="#FED085"/><rect x="524.10" y="1524.00" width="75.80" height="36.55" fill="#FED287"/><rect x="599.60" y="1524.00" width="75.80" height="36.55" fill="#FED287"/><rect x="675.10" y="1524.00" width="75.80" height="36.55" fill="#FED589"/><rect x="750.60" y="1524.00" width="75.80" height="36.55" fill="#FED085"/><rect x="826.10" y="1524.00" width="75.80" height="36.55" fill="#FECD84"/><rect x="901.60" y="1524.00" width="75.80" height="36.55" fill="#FED085"/><rect x="977.10" y="1524.00" width="75.80" height="36.55" fill="#FED589"/><rect x="1052.60" y="1524.00" width="75.80" height="36.55" fill="#FED287"/>
<rect x="146.60" y="1560.25" width="75.80" height="36.55" fill="#FED287"/><rect x="222.10" y="1560.25" width="75.80" height="36.55" fill="#FED085"/><rect x="297.60" y="1560.25" width="75.80" height="36.55" fill="#FED085"/><rect x="373.10" y="1560.25" width="75.80" height="36.55" fill="#FED085"/><rect x="448.60" y="1560.25" width="75.80" height="36.55" fill="#FED085"/><rect x="524.10" y="1560.25" width="75.80" height="36.55" fill="#FED287"/><rect x="599.60" y="1560.25" width="75.80" height="36.55" fill="#FED287"/><rect x="675.10" y="1560.25" width="75.80" height="36.55" fill="#FED589"/><rect x="750.60" y="1560.25" width="75.80" height="36.55" fill="#FED085"/><rect x="826.10" y="1560.25" width="75.80" height="36.55" fill="#FECD84"/><rect x="901.60" y="1560.25" width="75.80" height="36.55" fill="#FED085"/><rect x="977.10" y="1560.25" width="75.80" height="36.55" fill="#FED287"/><rect x="1052.60" y="1560.25" width="75.80" height="36.55" fill="#FED186"/>
<rect x="146.60" y="1596.50" width="75.80" height="36.55" fill="#FDC27C"/><rect x="222.10" y="1596.50" width="75.80" height="36.55" fill="#FDA96B"/><rect x="297.60" y="1596.50" width="75.80" height="36.55" fill="#FDB574"/><rect x="373.10" y="1596.50" width="75.80" height="36.55" fill="#FDB574"/><rect x="448.60" y="1596.50" width="75.80" height="36.55" fill="#FDB875"/><rect x="524.10" y="1596.50" width="75.80" height="36.55" fill="#FDBD79"/><rect x="599.60" y="1596.50" width="75.80" height="36.55" fill="#FDBF7A"/><rect x="675.10" y="1596.50" width="75.80" height="36.55" fill="#FDBD79"/><rect x="750.60" y="1596.50" width="75.80" height="36.55" fill="#FDB171"/><rect x="826.10" y="1596.50" width="75.80" height="36.55" fill="#FDB171"/><rect x="901.60" y="1596.50" width="75.80" height="36.55" fill="#FFF4AE"/><rect x="977.10" y="1596.50" width="75.80" height="36.55" fill="#FEDD8E"/><rect x="1052.60" y="1596.50" width="75.80" height="36.55" fill="#FEE597"/>
<rect x="146.60" y="1632.75" width="75.80" height="36.55" fill="#FDBF7A"/><rect x="222.10" y="1632.75" width="75.80" height="36.55" fill="#FEDB8D"/><rect x="297.60" y="1632.75" width="75.80" height="36.55" fill="#FDBA77"/><rect x="373.10" y="1632.75" width="75.80" height="36.55" fill="#FDB372"/><rect x="448.60" y="1632.75" width="75.80" height="36.55" fill="#FED689"/><rect x="524.10" y="1632.75" width="75.80" height="36.55" fill="#FDC981"/><rect x="599.60" y="1632.75" width="75.80" height="36.55" fill="#FDB875"/><rect x="675.10" y="1632.75" width="75.80" height="36.55" fill="#FEE191"/><rect x="750.60" y="1632.75" width="75.80" height="36.55" fill="#FEEBA1"/><rect x="826.10" y="1632.75" width="75.80" height="36.55" fill="#FEE99E"/><rect x="901.60" y="1632.75" width="75.80" height="36.55" fill="#FEEFA7"/><rect x="977.10" y="1632.75" width="75.80" height="36.55" fill="#FEE597"/><rect x="1052.60" y="1632.75" width="75.80" height="36.55" fill="#FEE89D"/>
<rect x="146.60" y="1669.00" width="75.80" height="36.55" fill="#FED388"/><rect x="222.10" y="1669.00" width="75.80" height="36.55" fill="#FDB574"/><rect x="297.60" y="1669.00" width="75.80" height="36.55" fill="#FDBA77"/><rect x="373.10" y="1669.00" width="75.80" height="36.55" fill="#FECE84"/><rect x="448.60" y="1669.00" width="75.80" height="36.55" fill="#FDB875"/><rect x="524.10" y="1669.00" width="75.80" height="36.55" fill="#FDC47E"/><rect x="599.60" y="1669.00" width="75.80" height="36.55" fill="#FDC77F"/><rect x="675.10" y="1669.00" width="75.80" height="36.55" fill="#FEE99E"/><rect x="750.60" y="1669.00" width="75.80" height="36.55" fill="#FEEAA0"/><rect x="826.10" y="1669.00" width="75.80" height="36.55" fill="#FEE99E"/><rect x="901.60" y="1669.00" width="75.80" height="36.55" fill="#FEE89B"/><rect x="977.10" y="1669.00" width="75.80" height="36.55" fill="#FEE79A"/><rect x="1052.60" y="1669.00" width="75.80" height="36.55" fill="#FEE89B"/>
<rect x="146.60" y="1705.25" width="75.80" height="36.55" fill="#FDB372"/><rect x="222.10" y="1705.25" width="75.80" height="36.55" fill="#FDB070"/><rect x="297.60" y="1705.25" width="75.80" height="36.55" fill="#FDA96B"/><rect x="373.10" y="1705.25" width="75.80" height="36.55" fill="#FDAE6F"/><rect x="448.60" y="1705.25" width="75.80" height="36.55" fill="#FDB070"/><rect x="524.10" y="1705.25" width="75.80" height="36.55" fill="#FDB574"/><rect x="599.60" y="1705.25" width="75.80" height="36.55" fill="#FDB875"/><rect x="675.10" y="1705.25" width="75.80" height="36.55" fill="#FEECA3"/><rect x="750.60" y="1705.25" width="75.80" height="36.55" fill="#FEECA3"/><rect x="826.10" y="1705.25" width="75.80" height="36.55" fill="#FEECA3"/><rect x="901.60" y="1705.25" width="75.80" height="36.55" fill="#FFF0A8"/><rect x="977.10" y="1705.25" width="75.80" height="36.55" fill="#FEEAA0"/><rect x="1052.60" y="1705.25" width="75.80" height="36.55" fill="#FEECA3"/>
<rect x="146.60" y="1741.50" width="75.80" height="36.55" fill="#FDBA77"/><rect x="222.10" y="1741.50" width="75.80" height="36.55" fill="#FDB070"/><rect x="297.60" y="1741.50" width="75.80" height="36.55" fill="#FDA468"/><rect x="373.10" y="1741.50" width="75.80" height="36.55" fill="#FDB875"/><rect x="448.60" y="1741.50" width="75.80" height="36.55" fill="#FDAE6F"/><rect x="524.10" y="1741.50" width="75.80" height="36.55" fill="#FDB875"/><rect x="599.60" y="1741.50" width="75.80" height="36.55" fill="#FDB070"/><rect x="675.10" y="1741.50" width="75.80" height="36.55" fill="#FEEEA5"/><rect x="750.60" y="1741.50" width="75.80" height="36.55" fill="#FEEEA5"/><rect x="826.10" y="1741.50" width="75.80" height="36.55" fill="#FEE89D"/><rect x="901.60" y="1741.50" width="75.80" height="36.55" fill="#FFF0A8"/><rect x="977.10" y="1741.50" width="75.80" height="36.55" fill="#FEECA3"/><rect x="1052.60" y="1741.50" width="75.80" height="36.55" fill="#FEEAA0"/>
<rect x="146.60" y="1777.75" width="75.80" height="36.55" fill="#FDA96B"/><rect x="222.10" y="1777.75" width="75.80" height="36.55" fill="#FDB372"/><rect x="297.60" y="1777.75" width="75.80" height="36.55" fill="#FDAB6D"/><rect x="373.10" y="1777.75" width="75.80" height="36.55" fill="#FCA166"/><rect x="448.60" y="1777.75" width="75.80" height="36.55" fill="#FDAB6D"/><rect x="524.10" y="1777.75" width="75.80" height="36.55" fill="#FDA96B"/><rect x="599.60" y="1777.75" width="75.80" height="36.55" fill="#FDA66A"/><rect x="675.10" y="1777.75" width="75.80" height="36.55" fill="#FDA468"/><rect x="750.60" y="1777.75" width="75.80" height="36.55" fill="#FEDB8D"/><rect x="826.10" y="1777.75" width="75.80" height="36.55" fill="#FFF7B4"/><rect x="901.60" y="1777.75" width="75.80" height="36.55" fill="#FEE496"/><rect x="977.10" y="1777.75" width="75.80" height="36.55" fill="#FFF0A8"/><rect x="1052.60" y="1777.75" width="75.80" height="36.55" fill="#FFFDBC"/>
<rect x="146.60" y="1814.00" width="75.80" height="36.55" fill="#FC9F65"/><rect x="222.10" y="1814.00" width="75.80" height="36.55" fill="#FC9C63"/><rect x="297.60" y="1814.00" width="75.80" height="36.55" fill="#FC9C63"/><rect x="373.10" y="1814.00" width="75.80" height="36.55" fill="#FC9A61"/><rect x="448.60" y="1814.00" width="75.80" height="36.55" fill="#FCA166"/><rect x="524.10" y="1814.00" width="75.80" height="36.55" fill="#FCA166"/><rect x="599.60" y="1814.00" width="75.80" height="36.55" fill="#FDA96B"/><rect x="675.10" y="1814.00" width="75.80" height="36.55" fill="#FEEAA0"/><rect x="750.60" y="1814.00" width="75.80" height="36.55" fill="#FEE89D"/><rect x="826.10" y="1814.00" width="75.80" height="36.55" fill="#FFF2AB"/><rect x="901.60" y="1814.00" width="75.80" height="36.55" fill="#FEE394"/><rect x="977.10" y="1814.00" width="75.80" height="36.55" fill="#FEE394"/><rect x="1052.60" y="1814.00" width="75.80" height="36.55" fill="#FEE394"/>
<rect x="146.60" y="1850.25" width="75.80" height="36.55" fill="#FDB070"/><rect x="222.10" y="1850.25" width="75.80" height="36.55" fill="#FCA166"/><rect x="297.60" y="1850.25" width="75.80" height="36.55" fill="#FDB372"/><rect x="373.10" y="1850.25" width="75.80" height="36.55" fill="#FC9C63"/><rect x="448.60" y="1850.25" width="75.80" height="36.55" fill="#FDB574"/><rect x="524.10" y="1850.25" width="75.80" height="36.55" fill="#FDB070"/><rect x="599.60" y="1850.25" width="75.80" height="36.55" fill="#FDA96B"/><rect x="675.10" y="1850.25" width="75.80" height="36.55" fill="#FEEAA0"/><rect x="750.60" y="1850.25" width="75.80" height="36.55" fill="#FEECA3"/><rect x="826.10" y="1850.25" width="75.80" height="36.55" fill="#FEE89D"/><rect x="901.60" y="1850.25" width="75.80" height="36.55" fill="#FEE89D"/><rect x="977.10" y="1850.25" width="75.80" height="36.55" fill="#FEE597"/><rect x="1052.60" y="1850.25" width="75.80" height="36.55" fill="#FEE191"/>
<rect x="146.60" y="1886.50" width="75.80" height="36.55" fill="#FC925C"/><rect x="222.10" y="1886.50" width="75.80" height="36.55" fill="#FDA66A"/><rect x="297.60" y="1886.50" width="75.80" height="36.55" fill="#FC9C63"/><rect x="373.10" y="1886.50" width="75.80" height="36.55" fill="#FC9C63"/><rect x="448.60" y="1886.50" width="75.80" height="36.55" fill="#FDC27C"/><rect x="524.10" y="1886.50" width="75.80" height="36.55" fill="#FCA166"/><rect x="599.60" y="1886.50" width="75.80" height="36.55" fill="#FC9A61"/><rect x="675.10" y="1886.50" width="75.80" height="36.55" fill="#FEE394"/><rect x="750.60" y="1886.50" width="75.80" height="36.55" fill="#FFF0A8"/><rect x="826.10" y="1886.50" width="75.80" height="36.55" fill="#FFF9B6"/><rect x="901.60" y="1886.50" width="75.80" height="36.55" fill="#FFF4AE"/><rect x="977.10" y="1886.50" width="75.80" height="36.55" fill="#FEEEA5"/><rect x="1052.60" y="1886.50" width="75.80" height="36.55" fill="#FFF4AE"/>
<rect x="146.60" y="1922.75" width="75.80" height="36.55" fill="#FDB574"/><rect x="222.10" y="1922.75" width="75.80" height="36.55" fill="#FC925C"/><rect x="297.60" y="1922.75" width="75.80" height="36.55" fill="#FC9A61"/><rect x="373.10" y="1922.75" width="75.80" height="36.55" fill="#FC9A61"/><rect x="448.60" y="1922.75" width="75.80" height="36.55" fill="#FC9C63"/><rect x="524.10" y="1922.75" width="75.80" height="36.55" fill="#FCA166"/><rect x="599.60" y="1922.75" width="75.80" height="36.55" fill="#FC9A61"/><rect x="675.10" y="1922.75" width="75.80" height="36.55" fill="#FEEEA5"/><rect x="750.60" y="1922.75" width="75.80" height="36.55" fill="#FFF0A8"/><rect x="826.10" y="1922.75" width="75.80" height="36.55" fill="#FFFBB9"/><rect x="901.60" y="1922.75" width="75.80" height="36.55" fill="#FEECA3"/><rect x="977.10" y="1922.75" width="75.80" height="36.55" fill="#FEECA3"/><rect x="1052.60" y="1922.75" width="75.80" height="36.55" fill="#FEEAA0"/>
</g>
<path d="M146.60 145.50V1960.00M222.10 145.50V1960.00M297.60 145.50V1960.00M373.10 145.50V1960.00M448.60 145.50V1960.00M524.10 145.50V1960.00M599.60 145.50V1960.00M675.10 145.50V1960.00M750.60 145.50V1960.00M826.10 145.50V1960.00M901.60 145.50V1960.00M977.10 145.50V1960.00M1052.60 145.50V1960.00M1128.10 145.50V1960.00M145.60 146.50H1129.10M145.60 182.75H1129.10M145.60 219.00H1129.10M145.60 255.25H1129.10M145.60 291.50H1129.10M145.60 327.75H1129.10M145.60 364.00H1129.10M145.60 400.25H1129.10M145.60 436.50H1129.10M145.60 472.75H1129.10M145.60 509.00H1129.10M145.60 545.25H1129.10M145.60 581.50H1129.10M145.60 617.75H1129.10M145.60 654.00H1129.10M145.60 690.25H1129.10M145.60 726.50H1129.10M145.60 762.75H1129.10M145.60 799.00H1129.10M145.60 835.25H1129.10M145.60 871.50H1129.10M145.60 907.75H1129.10M145.60 944.00H1129.10M145.60 980.25H1129.10M145.60 1016.50H1129.10M145.60 1052.75H1129.10M145.60 1089.00H1129.10M145.60 1125.25H1129.10M145.60 1161.50H1129.10M145.60 1197.75H1129.10M145.60 1234.00H1129.10M145.60 1270.25H1129.10M145.60 1306.50H1129.10M145.60 1342.75H1129.10M145.60 1379.00H1129.10M145.60 1415.25H1129.10M145.60 1451.50H1129.10M145.60 1487.75H1129.10M145.60 1524.00H1129.10M145.60 1560.25H1129.10M145.60 1596.50H1129.10M145.60 1632.75H1129.10M145.60 1669.00H1129.10M145.60 1705.25H1129.10M145.60 1741.50H1129.10M145.60 1777.75H1129.10M145.60 1814.00H1129.10M145.60 1850.25H1129.10M145.60 1886.50H1129.10M145.60 1922.75H1129.10M145.60 1959.00H1129.10" stroke="#999999" stroke-width="1.9" fill="none"/>
<g>
<text transform="translate(1136 174.82) scale(1 1.06)">Gad1</text>
<text transform="translate(1136 211.07) scale(1 1.06)">Gad2</text>
<text transform="translate(1136 247.32) scale(1 1.06)">Slc6a1</text>
<text transform="translate(1136 283.57) scale(1 1.06)">Rab3c</text>
<text transform="translate(1136 319.82) scale(1 1.06)">Nrxn3</text>
<text transform="translate(1136 356.07) scale(1 1.06)">Dner</text>
<text transform="translate(1136 392.32) scale(1 1.06)">Nap1l5</text>
<text transform="translate(1136 428.57) scale(1 1.06)">Vstm2a</text>
<text transform="translate(1136 464.82) scale(1 1.06)">Cplx1</text>
<text transform="translate(1136 501.07) scale(1 1.06)">Nrip3</text>
<text transform="translate(1136 537.33) scale(1 1.06)">Tubb2a</text>
<text transform="translate(1136 573.58) scale(1 1.06)">Atp1a3</text>
<text transform="translate(1136 609.83) scale(1 1.06)">Celf4</text>
<text transform="translate(1136 646.08) scale(1 1.06)">Nsf</text>
<text transform="translate(1136 682.33) scale(1 1.06)">Atp1b1</text>
<text transform="translate(1136 718.58) scale(1 1.06)">Ndrg4</text>
<text transform="translate(1136 754.83) scale(1 1.06)">Snap25</text>
<text transform="translate(1136 791.08) scale(1 1.06)">Stmn3</text>
<text transform="translate(1136 827.33) scale(1 1.06)">Fabp3</text>
<text transform="translate(1136 863.58) scale(1 1.06)">Chgb</text>
<text transform="translate(1136 899.83) scale(1 1.06)">Gabrg2</text>
<text transform="translate(1136 936.08) scale(1 1.06)">Dnm1</text>
<text transform="translate(1136 972.33) scale(1 1.06)">Uchl1</text>
<text transform="translate(1136 1008.58) scale(1 1.06)">Napb</text>
<text transform="translate(1136 1044.83) scale(1 1.06)">Atp6v1g2</text>
<text transform="translate(1136 1081.08) scale(1 1.06)">Syp</text>
<text transform="translate(1136 1117.33) scale(1 1.06)">Chl1</text>
<text transform="translate(1136 1153.58) scale(1 1.06)">Disp2</text>
<text transform="translate(1136 1189.83) scale(1 1.06)">Ptprn2</text>
<text transform="translate(1136 1226.08) scale(1 1.06)">Caly</text>
<text transform="translate(1136 1262.33) scale(1 1.06)">Ckmt1</text>
<text transform="translate(1136 1298.58) scale(1 1.06)">Tmem59l</text>
<text transform="translate(1136 1334.83) scale(1 1.06)">Abat</text>
<text transform="translate(1136 1371.08) scale(1 1.06)">Igf1</text>
<text transform="translate(1136 1407.33) scale(1 1.06)">Rcan2</text>
<text transform="translate(1136 1443.58) scale(1 1.06)">Dlx1</text>
<text transform="translate(1136 1479.83) scale(1 1.06)">Rbms3</text>
<text transform="translate(1136 1516.08) scale(1 1.06)">Arl4c</text>
<text transform="translate(1136 1552.33) scale(1 1.06)">Slc32a1</text>
<text transform="translate(1136 1588.58) scale(1 1.06)">Dlx6os1</text>
<text transform="translate(1136 1624.83) scale(1 1.06)">Rph3a</text>
<text transform="translate(1136 1661.08) scale(1 1.06)">Cend1</text>
<text transform="translate(1136 1697.33) scale(1 1.06)">Gprasp2</text>
<text transform="translate(1136 1733.58) scale(1 1.06)">Syngr3</text>
<text transform="translate(1136 1769.83) scale(1 1.06)">Cadps</text>
<text transform="translate(1136 1806.08) scale(1 1.06)">Zwint</text>
<text transform="translate(1136 1842.33) scale(1 1.06)">Serpini1</text>
<text transform="translate(1136 1878.58) scale(1 1.06)">Ndn</text>
<text transform="translate(1136 1914.83) scale(1 1.06)">Mllt11</text>
<text transform="translate(1136 1951.08) scale(1 1.06)">Zcchc18</text>
</g>
<g>
<text transform="translate(174.15 1967) rotate(90) scale(1 1.06)">8</text>
<text transform="translate(249.65 1967) rotate(90) scale(1 1.06)">12</text>
<text transform="translate(325.15 1967) rotate(90) scale(1 1.06)">14</text>
<text transform="translate(400.65 1967) rotate(90) scale(1 1.06)">10</text>
<text transform="translate(476.15 1967) rotate(90) scale(1 1.06)">13</text>
<text transform="translate(551.65 1967) rotate(90) scale(1 1.06)">5</text>
<text transform="translate(627.15 1967) rotate(90) scale(1 1.06)">6</text>
<text transform="translate(702.65 1967) rotate(90) scale(1 1.06)">3</text>
<text transform="translate(778.15 1967) rotate(90) scale(1 1.06)">2</text>
<text transform="translate(853.65 1967) rotate(90) scale(1 1.06)">9</text>
<text transform="translate(929.15 1967) rotate(90) scale(1 1.06)">7</text>
<text transform="translate(1004.65 1967) rotate(90) scale(1 1.06)">4</text>
<text transform="translate(1080.15 1967) rotate(90) scale(1 1.06)">11</text>
</g>
<rect x="1267.1" y="147.00" width="26.9" height="4.40" fill="#D73027"/><rect x="1267.1" y="151.00" width="26.9" height="4.40" fill="#D9362A"/><rect x="1267.1" y="155.00" width="26.9" height="4.40" fill="#DB3B2D"/><rect x="1267.1" y="159.00" width="26.9" height="4.40" fill="#DE4130"/><rect x="1267.1" y="163.00" width="26.9" height="4.40" fill="#E04733"/><rect x="1267.1" y="167.00" width="26.9" height="4.40" fill="#E24C36"/><rect x="1267.1" y="171.00" width="26.9" height="4.40" fill="#E45239"/><rect x="1267.1" y="175.00" width="26.9" height="4.40" fill="#E7573C"/><rect x="1267.1" y="179.00" width="26.9" height="4.40" fill="#E95D3F"/><rect x="1267.1" y="183.00" width="26.9" height="4.40" fill="#EB6342"/><rect x="1267.1" y="187.00" width="26.9" height="4.40" fill="#ED6845"/><rect x="1267.1" y="191.00" width="26.9" height="4.40" fill="#F06E48"/><rect x="1267.1" y="195.00" width="26.9" height="4.40" fill="#F2744B"/><rect x="1267.1" y="199.00" width="26.9" height="4.40" fill="#F4794E"/><rect x="1267.1" y="203.00" width="26.9" height="4.40" fill="#F67F51"/><rect x="1267.1" y="207.00" width="26.9" height="4.40" fill="#F98554"/><rect x="1267.1" y="211.00" width="26.9" height="4.40" fill="#FB8A57"/><rect x="1267.1" y="215.00" width="26.9" height="4.40" fill="#FC905B"/><rect x="1267.1" y="219.00" width="26.9" height="4.40" fill="#FC955E"/><rect x="1267.1" y="223.00" width="26.9" height="4.40" fill="#FC9A61"/><rect x="1267.1" y="227.00" width="26.9" height="4.40" fill="#FC9F65"/><rect x="1267.1" y="231.00" width="26.9" height="4.40" fill="#FDA468"/><rect x="1267.1" y="235.00" width="26.9" height="4.40" fill="#FDA96B"/><rect x="1267.1" y="239.00" width="26.9" height="4.40" fill="#FDAE6F"/><rect x="1267.1" y="243.00" width="26.9" height="4.40" fill="#FDB372"/><rect x="1267.1" y="247.00" width="26.9" height="4.40" fill="#FDB875"/><rect x="1267.1" y="251.00" width="26.9" height="4.40" fill="#FDBD79"/><rect x="1267.1" y="255.00" width="26.9" height="4.40" fill="#FDC27C"/><rect x="1267.1" y="259.00" width="26.9" height="4.40" fill="#FDC77F"/><rect x="1267.1" y="263.00" width="26.9" height="4.40" fill="#FECC83"/><rect x="1267.1" y="267.00" width="26.9" height="4.40" fill="#FED186"/><rect x="1267.1" y="271.00" width="26.9" height="4.40" fill="#FED689"/><rect x="1267.1" y="275.00" width="26.9" height="4.40" fill="#FEDB8D"/><rect x="1267.1" y="279.00" width="26.9" height="4.40" fill="#FEE090"/><rect x="1267.1" y="283.00" width="26.9" height="4.40" fill="#FEE293"/><rect x="1267.1" y="287.00" width="26.9" height="4.40" fill="#FEE496"/><rect x="1267.1" y="291.00" width="26.9" height="4.40" fill="#FEE699"/><rect x="1267.1" y="295.00" width="26.9" height="4.40" fill="#FEE89B"/><rect x="1267.1" y="299.00" width="26.9" height="4.40" fill="#FEE99E"/><rect x="1267.1" y="303.00" width="26.9" height="4.40" fill="#FEEBA1"/><rect x="1267.1" y="307.00" width="26.9" height="4.40" fill="#FEEDA4"/><rect x="1267.1" y="311.00" width="26.9" height="4.40" fill="#FEEFA7"/><rect x="1267.1" y="315.00" width="26.9" height="4.40" fill="#FFF1AA"/><rect x="1267.1" y="319.00" width="26.9" height="4.40" fill="#FFF3AC"/><rect x="1267.1" y="323.00" width="26.9" height="4.40" fill="#FFF5AF"/><rect x="1267.1" y="327.00" width="26.9" height="4.40" fill="#FFF7B2"/><rect x="1267.1" y="331.00" width="26.9" height="4.40" fill="#FFF8B5"/><rect x="1267.1" y="335.00" width="26.9" height="4.40" fill="#FFFAB8"/><rect x="1267.1" y="339.00" width="26.9" height="4.40" fill="#FFFCBB"/><rect x="1267.1" y="343.00" width="26.9" height="4.40" fill="#FFFEBE"/><rect x="1267.1" y="347.00" width="26.9" height="4.40" fill="#FEFFC1"/><rect x="1267.1" y="351.00" width="26.9" height="4.40" fill="#FCFEC4"/><rect x="1267.1" y="355.00" width="26.9" height="4.40" fill="#FAFDC8"/><rect x="1267.1" y="359.00" width="26.9" height="4.40" fill="#F8FCCB"/><rect x="1267.1" y="363.00" width="26.9" height="4.40" fill="#F7FCCF"/><rect x="1267.1" y="367.00" width="26.9" height="4.40" fill="#F5FBD2"/><rect x="1267.1" y="371.00" width="26.9" height="4.40" fill="#F3FAD5"/><rect x="1267.1" y="375.00" width="26.9" height="4.40" fill="#F1FAD9"/><rect x="1267.1" y="379.00" width="26.9" height="4.40" fill="#EFF9DC"/><rect x="1267.1" y="383.00" width="26.9" height="4.40" fill="#EDF8E0"/><rect x="1267.1" y="387.00" width="26.9" height="4.40" fill="#EBF7E3"/><rect x="1267.1" y="391.00" width="26.9" height="4.40" fill="#E9F7E7"/><rect x="1267.1" y="395.00" width="26.9" height="4.40" fill="#E8F6EA"/><rect x="1267.1" y="399.00" width="26.9" height="4.40" fill="#E6F5EE"/><rect x="1267.1" y="403.00" width="26.9" height="4.40" fill="#E4F4F1"/><rect x="1267.1" y="407.00" width="26.9" height="4.40" fill="#E2F4F5"/><rect x="1267.1" y="411.00" width="26.9" height="4.40" fill="#E0F3F8"/><rect x="1267.1" y="415.00" width="26.9" height="4.40" fill="#DBF0F6"/><rect x="1267.1" y="419.00" width="26.9" height="4.40" fill="#D6EDF4"/><rect x="1267.1" y="423.00" width="26.9" height="4.40" fill="#D2EAF3"/><rect x="1267.1" y="427.00" width="26.9" height="4.40" fill="#CDE6F1"/><rect x="1267.1" y="431.00" width="26.9" height="4.40" fill="#C8E3EF"/><rect x="1267.1" y="435.00" width="26.9" height="4.40" fill="#C3E0ED"/><rect x="1267.1" y="439.00" width="26.9" height="4.40" fill="#BEDDEC"/><rect x="1267.1" y="443.00" width="26.9" height="4.40" fill="#BADAEA"/><rect x="1267.1" y="447.00" width="26.9" height="4.40" fill="#B5D7E8"/><rect x="1267.1" y="451.00" width="26.9" height="4.40" fill="#B0D3E6"/><rect x="1267.1" y="455.00" width="26.9" height="4.40" fill="#ABD0E5"/><rect x="1267.1" y="459.00" width="26.9" height="4.40" fill="#A7CDE3"/><rect x="1267.1" y="463.00" width="26.9" height="4.40" fill="#A2CAE1"/><rect x="1267.1" y="467.00" width="26.9" height="4.40" fill="#9DC7DF"/><rect x="1267.1" y="471.00" width="26.9" height="4.40" fill="#98C4DE"/><rect x="1267.1" y="475.00" width="26.9" height="4.40" fill="#93C1DC"/><rect x="1267.1" y="479.00" width="26.9" height="4.40" fill="#8FBDDA"/><rect x="1267.1" y="483.00" width="26.9" height="4.40" fill="#8AB8D7"/><rect x="1267.1" y="487.00" width="26.9" height="4.40" fill="#85B4D5"/><rect x="1267.1" y="491.00" width="26.9" height="4.40" fill="#81AFD3"/><rect x="1267.1" y="495.00" width="26.9" height="4.40" fill="#7CABD0"/><rect x="1267.1" y="499.00" width="26.9" height="4.40" fill="#78A6CE"/><rect x="1267.1" y="503.00" width="26.9" height="4.40" fill="#73A2CC"/><rect x="1267.1" y="507.00" width="26.9" height="4.40" fill="#6E9DC9"/><rect x="1267.1" y="511.00" width="26.9" height="4.40" fill="#6A99C7"/><rect x="1267.1" y="515.00" width="26.9" height="4.40" fill="#6594C5"/><rect x="1267.1" y="519.00" width="26.9" height="4.40" fill="#6190C2"/><rect x="1267.1" y="523.00" width="26.9" height="4.40" fill="#5C8BC0"/><rect x="1267.1" y="527.00" width="26.9" height="4.40" fill="#5787BD"/><rect x="1267.1" y="531.00" width="26.9" height="4.40" fill="#5382BB"/><rect x="1267.1" y="535.00" width="26.9" height="4.40" fill="#4E7EB9"/><rect x="1267.1" y="539.00" width="26.9" height="4.40" fill="#4A79B6"/><rect x="1267.1" y="543.00" width="26.9" height="4.40" fill="#4575B4"/>
<text transform="translate(1303.7 196.70) scale(1 1.06)">4</text>
<text transform="translate(1303.7 276.70) scale(1 1.06)">2</text>
<text transform="translate(1303.7 356.70) scale(1 1.06)">0</text>
<text transform="translate(1303.7 436.70) scale(1 1.06)">-2</text>
<text transform="translate(1303.7 516.70) scale(1 1.06)">-4</text>
</svg>
</body></html>
